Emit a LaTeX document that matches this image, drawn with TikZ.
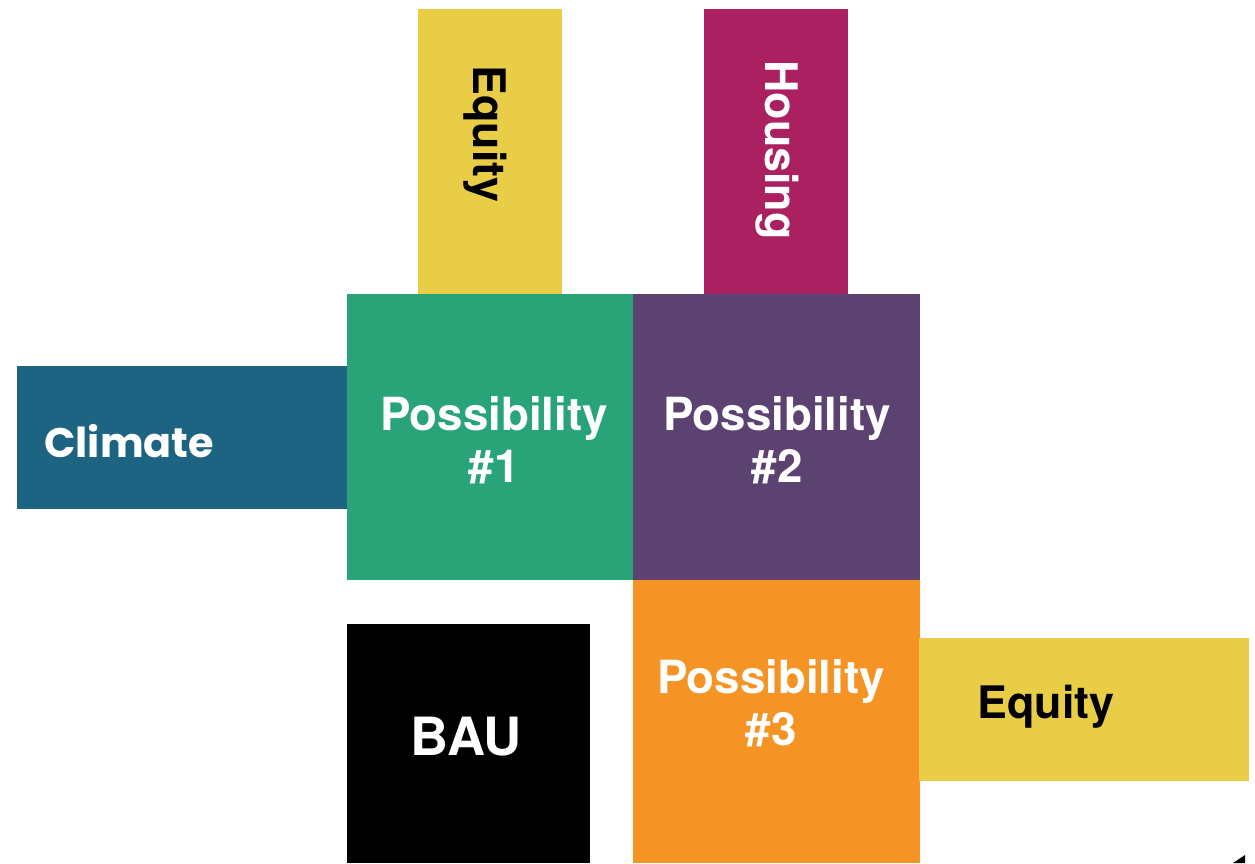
\documentclass[tikz,border=0pt]{standalone}
\usepackage{fontspec}
\setmainfont{TeX Gyre Heros}
\newfontfamily\popfont{Poppins}
\usetikzlibrary{positioning}
\definecolor{possGreen}{HTML}{29A479}
\definecolor{possPurple}{HTML}{5C4270}
\definecolor{possOrange}{HTML}{F59324}
\definecolor{climBlue}{HTML}{1C6482}
\definecolor{housMagenta}{HTML}{AB2060}
\definecolor{eqYellow}{HTML}{EACD46}
\newcommand{\drawR}[5]{
    \fill[#5] (#1,#2) rectangle (#3,#4);
}
\tikzset{
    lbl/.style={font=\fontsize{25.5}{29.5}\selectfont\bfseries, align=center, inner sep=0pt, text=white},
    poss/.style={lbl, font=\fontsize{26}{29.5}\selectfont\bfseries},
    dark/.style={text=black}
}

\begin{document}
\begin{tikzpicture}[x=0.02cm, y=-0.02cm]
    \useasboundingbox (0,0) rectangle (1255,863);

    %Boxes
        \drawR{418}{9}{562}{295}{eqYellow}
        \drawR{704}{9}{848}{295}{housMagenta}
        \drawR{17}{366}{348}{509}{climBlue}
        \drawR{347}{294}{634}{580}{possGreen}
        \drawR{633}{294}{920}{580}{possPurple}
        \drawR{633}{580}{920}{863}{possOrange}
        \drawR{347}{624}{590}{863}{black}
        \drawR{919}{638}{1249}{781}{eqYellow}
        \fill[black] (1233,863) -- (1245,855) -- (1245,863) -- cycle;

    % Labels
        \node[lbl, dark, rotate=-90] (eqtop) at (485,134) {Equity};
        \node[lbl, rotate=-90] (hous) at (777,150) {Housing};
        \node[lbl, anchor=west, font=\fontsize{23.5}{30}\popfont\bfseries] (clim) at (44,441) {Climate};
        \node[poss] (p1) at (494,440) {Possibility\\\#1};
        \node[poss] (p2) at (777,440) {Possibility\\\#2};
        \node[poss] (p3) at (771,703) {Possibility\\\#3};
        \node[lbl, font=\fontsize{30}{34}\selectfont\bfseries] (bau) at (466,737) {BAU};
        \node[lbl, dark, anchor=west] (eqright) at (977,707) {Equity};
    \end{tikzpicture}
\end{document}
